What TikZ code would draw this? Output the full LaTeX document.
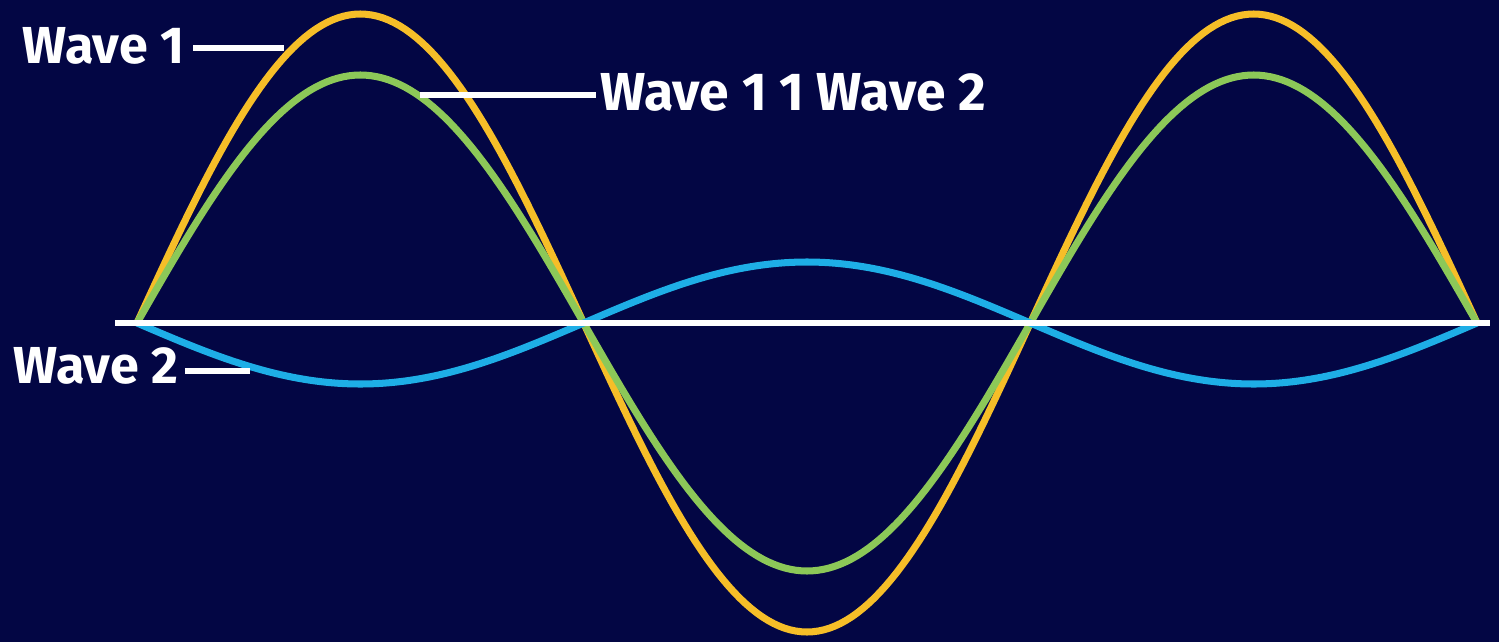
\documentclass[tikz,border=0pt]{standalone}
\usepackage{fontspec}
\setmainfont{Fira Sans}
\definecolor{bg}{RGB}{3,6,68}
\definecolor{wyellow}{RGB}{246,190,40}
\definecolor{wgreen}{RGB}{140,200,88}
\definecolor{wblue}{RGB}{30,174,230}
\begin{document}
\begin{tikzpicture}[x=0.01cm,y=-0.01cm,
  wave/.style={line width=2pt,line join=round},
  lbl/.style={text=white,font=\fontsize{14.8}{16}\selectfont\bfseries,inner sep=0pt,anchor=base west},
  lead/.style={white,line width=1.5pt}]
\fill[bg] (0,0) rectangle (1499,642);
\useasboundingbox (0,0) rectangle (1499,642);
% curves (parameter = phase in degrees)
\draw[wave,wyellow] plot[domain=0:540,samples=241] ({137+\x*2.48148},{323-309*sin(\x)});
\draw[wave,wgreen] plot[domain=0:540,samples=241] ({137+\x*2.48148},{323-248*sin(\x)});
\draw[wave,wblue] plot[domain=0:540,samples=241] ({137+\x*2.48148},{323+61*sin(\x)});
% axis
\coordinate (axL) at (115,323);
\coordinate (axR) at (1490,323);
\draw[white,line width=1.7pt] (axL) -- (axR);
% labels
\node[lbl] (w1) at (22,63) {Wave 1};
\node[lbl,font=\fontsize{15.2}{16}\selectfont\bfseries] (w12) at (600,110) {Wave 1 1 Wave 2};
\node[lbl] (w2) at (13,383) {Wave 2};
\coordinate (p1) at (284,48);
\coordinate (p12) at (420,95);
\coordinate (p2) at (250,371);
\draw[lead] (w1.east |- p1) ++(8,0) -- (p1);
\draw[lead] (p12) -- ([xshift=-1.2pt]w12.west |- p12);
\draw[lead] (w2.east |- p2) ++(6,0) -- (p2);
\end{tikzpicture}
\end{document}
